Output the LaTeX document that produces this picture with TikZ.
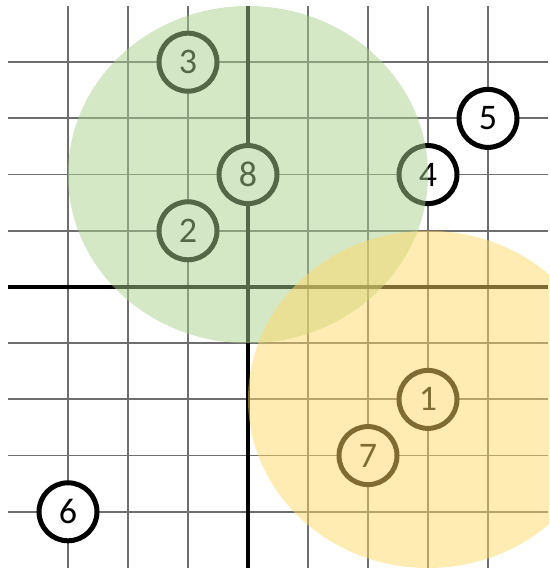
\documentclass[tikz,border=0pt]{standalone}
\usepackage{fontspec}
\setmainfont{Carlito}
\definecolor{gridgray}{RGB}{110,110,110}
\definecolor{greenfill}{RGB}{169,209,142}
\definecolor{yellowfill}{RGB}{255,217,102}
\tikzset{
  gridline/.style={draw=gridgray, line width=1.8pt},
  axisline/.style={draw=black, line width=4.5pt},
  num/.style={circle, draw=black, line width=5pt, fill=white, minimum size=58pt, inner sep=0pt, font=\fontsize{36}{36}\selectfont},
  zone/.style={opacity=0.5}
}
\begin{document}
\begin{tikzpicture}[x=60pt, y=56.2pt]
\useasboundingbox (-8/60,-4/56.2) rectangle (541/60,568/56.2);
\clip (-8/60,-4/56.2) rectangle (541/60,568/56.2);
% thin grid
\foreach \i in {1,2,3,5,6,7,8} {
  \path[gridline] (\i,0) -- (\i,10);
}
\foreach \j in {1,2,3,4,6,7,8,9} {
  \path[gridline] (0,\j) -- (9,\j);
}
% axes
\path[axisline] (0,5) -- (9,5);
\path[axisline] (4,0) -- (4,10);
% numbered nodes
\node[num] (n3) at (3,9) {3};
\node[num] (n8) at (4,7) {8};
\node[num] (n2) at (3,6) {2};
\node[num] (n4) at (7,7) {4};
\node[num] (n5) at (8,8) {5};
\node[num] (n6) at (1,1) {6};
\node[num] (n1) at (7,3) {1};
\node[num] (n7) at (6,2) {7};
% translucent zones
\fill[zone, greenfill] (4,7) ellipse [x radius=3, y radius=3];
\fill[zone, yellowfill] (7,3) ellipse [x radius=3, y radius=3];
\end{tikzpicture}
\end{document}
